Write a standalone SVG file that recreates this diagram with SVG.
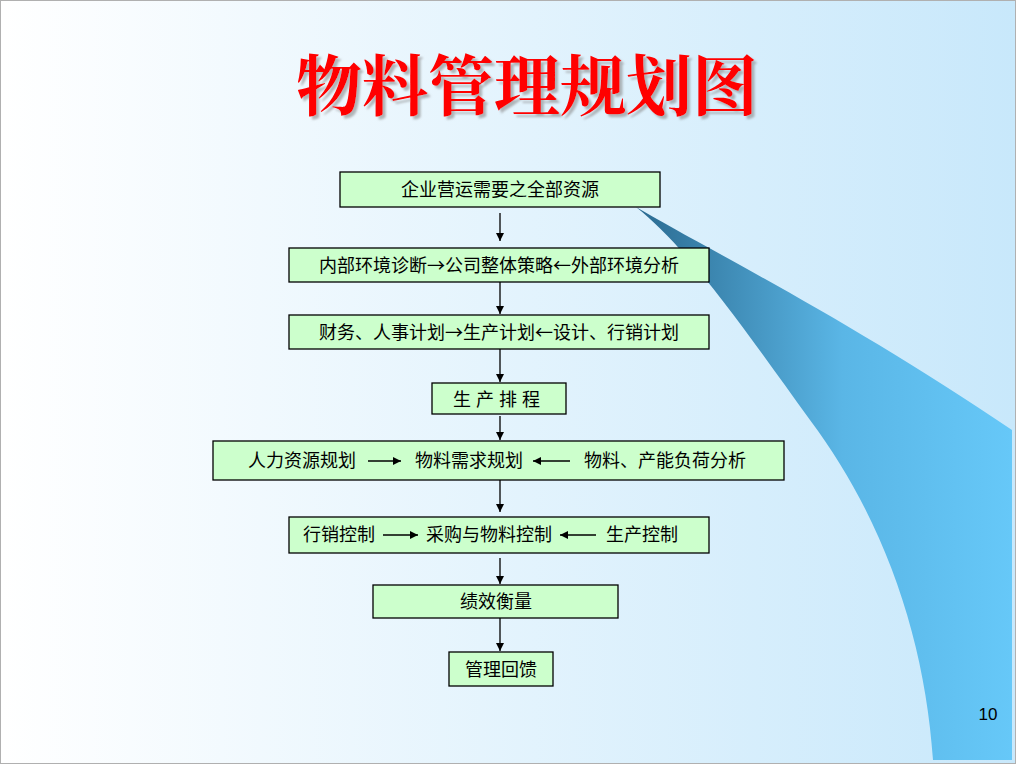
<svg xmlns="http://www.w3.org/2000/svg" width="1016" height="764" viewBox="0 0 1016 764">
<defs>
<linearGradient id="bg" x1="0" y1="0" x2="1" y2="0"><stop offset="0" stop-color="#ffffff"/><stop offset="1" stop-color="#c8e8fb"/></linearGradient>
<linearGradient id="sw" x1="0" y1="0" x2="1" y2="0"><stop offset="0" stop-color="#2a6a90"/><stop offset="0.55" stop-color="#5ab6e6"/><stop offset="1" stop-color="#66c8f8"/></linearGradient>
<filter id="sh" x="-10%" y="-20%" width="120%" height="150%"><feDropShadow dx="3" dy="3" stdDeviation="1" flood-color="#888" flood-opacity="0.6"/></filter>
<marker id="ah" viewBox="0 0 10 10" refX="10" refY="5" markerWidth="8" markerHeight="8" markerUnits="userSpaceOnUse" orient="auto"><path d="M0,0L10,5L0,10z" fill="#000"/></marker>
<style>
.box{fill:#ccffcc;stroke:#000;stroke-width:1.3}
.t{font-family:"Noto Sans CJK SC",sans-serif;font-size:18px;fill:#000;text-anchor:middle}
.c{stroke:#000;stroke-width:1.3;fill:none;marker-end:url(#ah)}
</style>
</defs>
<rect x="0" y="0" width="1016" height="764" fill="url(#bg)"/>
<rect x="0.5" y="0.5" width="1015" height="763" fill="none" stroke="#b0b0b0"/>
<path d="M636,207 C700,245 850,320 1012,430 L1012,760 L933,760 C925,640 885,520 810,420 C745,330 690,250 636,207 Z" fill="url(#sw)"/>
<text x="527" y="110" font-family="'Noto Serif CJK SC','Noto Sans CJK SC',serif" font-weight="bold" font-size="66" fill="#ff0000" text-anchor="middle" filter="url(#sh)">物料管理规划图</text>
<g id="n1"><rect class="box" x="340" y="172" width="320" height="35"/><text class="t" x="500" y="196">企业营运需要之全部资源</text></g>
<g id="n2"><rect class="box" x="289" y="248" width="420" height="34"/><text class="t" x="499" y="272">内部环境诊断→公司整体策略←外部环境分析</text></g>
<g id="n3"><rect class="box" x="289" y="315" width="420" height="34"/><text class="t" x="499" y="339">财务、人事计划→生产计划←设计、行销计划</text></g>
<g id="n4"><rect class="box" x="432" y="383" width="134" height="31"/><text class="t" x="499" y="406" letter-spacing="5">生产排程</text></g>
<g id="n5"><rect class="box" x="213" y="441" width="571" height="39"/>
<text class="t" x="302" y="467">人力资源规划</text><text class="t" x="469" y="467">物料需求规划</text><text class="t" x="665" y="467">物料、产能负荷分析</text>
<line class="c" x1="368" y1="461" x2="401" y2="461"/><line class="c" x1="570" y1="461" x2="533" y2="461"/></g>
<g id="n6"><rect class="box" x="289" y="517" width="420" height="36"/>
<text class="t" x="339" y="541">行销控制</text><text class="t" x="489" y="541">采购与物料控制</text><text class="t" x="642" y="541">生产控制</text>
<line class="c" x1="383" y1="535" x2="418" y2="535"/><line class="c" x1="596" y1="535" x2="560" y2="535"/></g>
<g id="n7"><rect class="box" x="373" y="585" width="245" height="33"/><text class="t" x="496" y="608">绩效衡量</text></g>
<g id="n8"><rect class="box" x="449" y="652" width="104" height="34"/><text class="t" x="501" y="676">管理回馈</text></g>
<g id="connectors">
<line class="c" x1="500" y1="213" x2="500" y2="241"/>
<line class="c" x1="500" y1="282" x2="500" y2="314"/>
<line class="c" x1="500" y1="349" x2="500" y2="382"/>
<line class="c" x1="500" y1="416" x2="500" y2="440"/>
<line class="c" x1="500" y1="480" x2="500" y2="512"/>
<line class="c" x1="500" y1="558" x2="500" y2="584"/>
<line class="c" x1="500" y1="618" x2="500" y2="651"/>
</g>
<text x="988" y="720" font-family="'Liberation Sans',sans-serif" font-size="17" text-anchor="middle">10</text>
</svg>
